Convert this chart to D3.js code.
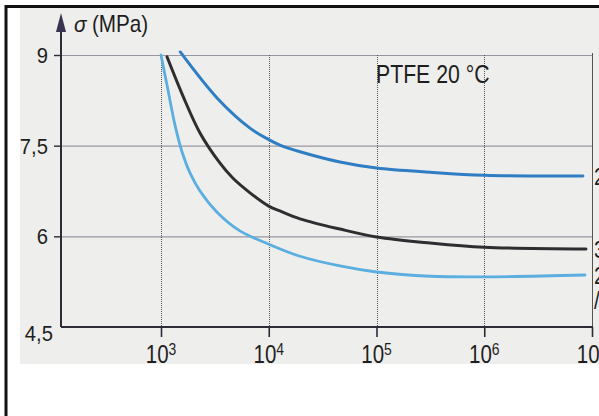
<!DOCTYPE html>
<html>
<head>
<meta charset="utf-8">
<script src="https://cdn.jsdelivr.net/npm/d3@7"></script>
<style>
  html, body { margin: 0; padding: 0; background: #fff; }
  svg { display: block; }
  text { font-family: "Liberation Sans", Arial, sans-serif; }
</style>
</head>
<body>
<svg id="chart" width="599" height="416"></svg>
<script>
// ---- data ----
const xTicks = [1e3, 1e4, 1e5, 1e6, 1e7];
const xTickExp = ["3", "4", "5", "6", "7"];
const yTicks = [4.5, 6, 7.5, 9];
const yTickLabels = ["4,5", "6", "7,5", "9"];
const yGrid = [6, 7.5, 9];

// curve 1 (upper, blue)
const upperN     = [1510, 3311, 6699, 10000, 12700, 19500, 45800, 100000, 314000, 1000000, 8240000];
const upperSigma = [9.05, 8.29, 7.79, 7.60, 7.51, 7.40, 7.23, 7.13, 7.06, 7.01, 7.0];
// curve 2 (middle, black)
const middleN     = [1137, 1600, 2301, 3530, 4660, 6699, 10000, 12700, 19500, 45800, 100000, 314000, 1000000, 8790000];
const middleSigma = [8.97, 8.32, 7.71, 7.21, 6.96, 6.72, 6.50, 6.42, 6.29, 6.12, 5.99, 5.89, 5.82, 5.79];
// curve 3 (lower, light blue)
const lowerN     = [1000, 1161, 1349, 1566, 1858, 2301, 3311, 5404, 10000, 19500, 45800, 100000, 314000, 1000000, 8610000];
const lowerSigma = [9.0, 8.42, 7.84, 7.40, 7.05, 6.75, 6.40, 6.09, 5.87, 5.67, 5.51, 5.41, 5.34, 5.33, 5.36];

const yTitleSym = "σ";
const yTitleUnit = "(MPa)";
const annotation = "PTFE 20 °C";
const edgeLabels = ["2", "3", "2", "/"];
const edgeLabelY = [7.0, 5.79, 5.36, 4.95];

// ---- drawing ----
const svg = d3.select("#chart");

// scan background & frame
svg.append("rect").attr("x", 20).attr("y", 8).attr("width", 579).attr("height", 356).attr("fill", "#eeeeec");
svg.append("line").attr("x1", 6).attr("x2", 6).attr("y1", 5).attr("y2", 416).attr("stroke", "#111").attr("stroke-width", 3);
svg.append("line").attr("x1", 5).attr("x2", 599).attr("y1", 6.5).attr("y2", 6.5).attr("stroke", "#111").attr("stroke-width", 3);

const x = d3.scaleLog().domain([1e3, 1e7]).range([161, 592]);
const y = d3.scaleLinear().domain([4.5, 9]).range([327, 55]);

// horizontal grid
svg.append("g").selectAll("line").data(yGrid).join("line")
  .attr("x1", 61).attr("x2", 592)
  .attr("y1", d => y(d) + 0.5).attr("y2", d => y(d) + 0.5)
  .attr("stroke", "#9a96a0").attr("stroke-width", 1.2);

// vertical grid (dotted)
svg.append("g").selectAll("line").data(xTicks).join("line")
  .attr("x1", d => Math.round(x(d)) + 0.5).attr("x2", d => Math.round(x(d)) + 0.5)
  .attr("y1", d => d === 1e7 ? y(9) - 2 : y(9)).attr("y2", y(4.5))
  .attr("stroke", "#555").attr("stroke-width", 1)
  .attr("stroke-dasharray", d => d === 1e7 ? null : "1,1");

// curves
const line = d3.line().x(d => x(d[0])).y(d => y(d[1])).curve(d3.curveCatmullRom.alpha(0.5));
const series = [
  { n: lowerN, s: lowerSigma, color: "#5aaee0", w: 2.8 },
  { n: middleN, s: middleSigma, color: "#2e2e30", w: 3 },
  { n: upperN, s: upperSigma, color: "#2f7ec4", w: 3 }
];
svg.append("g").selectAll("path").data(series).join("path")
  .attr("d", d => line(d.n.map((v, i) => [v, d.s[i]])))
  .attr("fill", "none").attr("stroke", d => d.color).attr("stroke-width", d => d.w)
  .attr("stroke-linecap", "round");

// x axis
const xAxis = d3.axisBottom(x).tickValues(xTicks).tickSize(10).tickFormat("");
const gx = svg.append("g").attr("transform", `translate(0,${y(4.5)})`).call(xAxis);
gx.select(".domain").attr("d", `M61,0H593`).attr("stroke", "#2e2a36").attr("stroke-width", 2);
gx.selectAll(".tick line").attr("stroke", "#2e2a36").attr("stroke-width", 1.6);

// x tick labels with superscripts (condensed look)
const xl = svg.append("g").attr("fill", "#1e1e1e");
xTicks.forEach((t, i) => {
  const txt = xl.append("text")
    .attr("transform", `translate(${x(t)},363) scale(0.82,1)`)
    .attr("text-anchor", "middle").attr("font-size", 25);
  txt.append("tspan").text("10");
  txt.append("tspan").attr("font-size", 17).attr("dy", -8).text(xTickExp[i]);
});

// y axis
const yAxis = d3.axisLeft(y).tickValues(yGrid).tickSize(7).tickFormat("");
const gy = svg.append("g").attr("transform", "translate(61,0)").call(yAxis);
gy.select(".domain").attr("d", `M0,${y(4.5)}V28`).attr("stroke", "#2e2a36").attr("stroke-width", 2);
gy.selectAll(".tick line").attr("stroke", "#2e2a36").attr("stroke-width", 1.4);
// arrow head
svg.append("path").attr("d", "M61,13L66,32L56,32Z").attr("fill", "#3a3350");

// y tick labels
svg.append("g").attr("fill", "#1e1e1e").selectAll("text").data(yTicks).join("text")
  .attr("transform", d => `translate(${d === 4.5 ? 53 : 48},${d === 4.5 ? y(d) + 14 : y(d) + 8}) scale(0.92,1)`)
  .attr("text-anchor", "end").attr("font-size", 22)
  .text((d, i) => yTickLabels[i]);

// y title
const yt = svg.append("text").attr("transform", "translate(74,32) scale(0.9,1)")
  .attr("fill", "#1e1e1e").attr("font-size", 23);
yt.append("tspan").attr("font-style", "italic").text(yTitleSym);
yt.append("tspan").attr("dx", 6).text(yTitleUnit);

// annotation
svg.append("text").attr("transform", "translate(376,83) scale(0.85,1)")
  .attr("font-size", 25).attr("fill", "#1e1e1e").text(annotation);

// cut-off labels at right edge
svg.append("g").attr("fill", "#1e1e1e").selectAll("text").data(edgeLabels).join("text")
  .attr("transform", (d, i) => `translate(594,${y(edgeLabelY[i]) + 9}) scale(0.85,1)`)
  .attr("font-size", 24).text(d => d);
</script>
</body>
</html>
